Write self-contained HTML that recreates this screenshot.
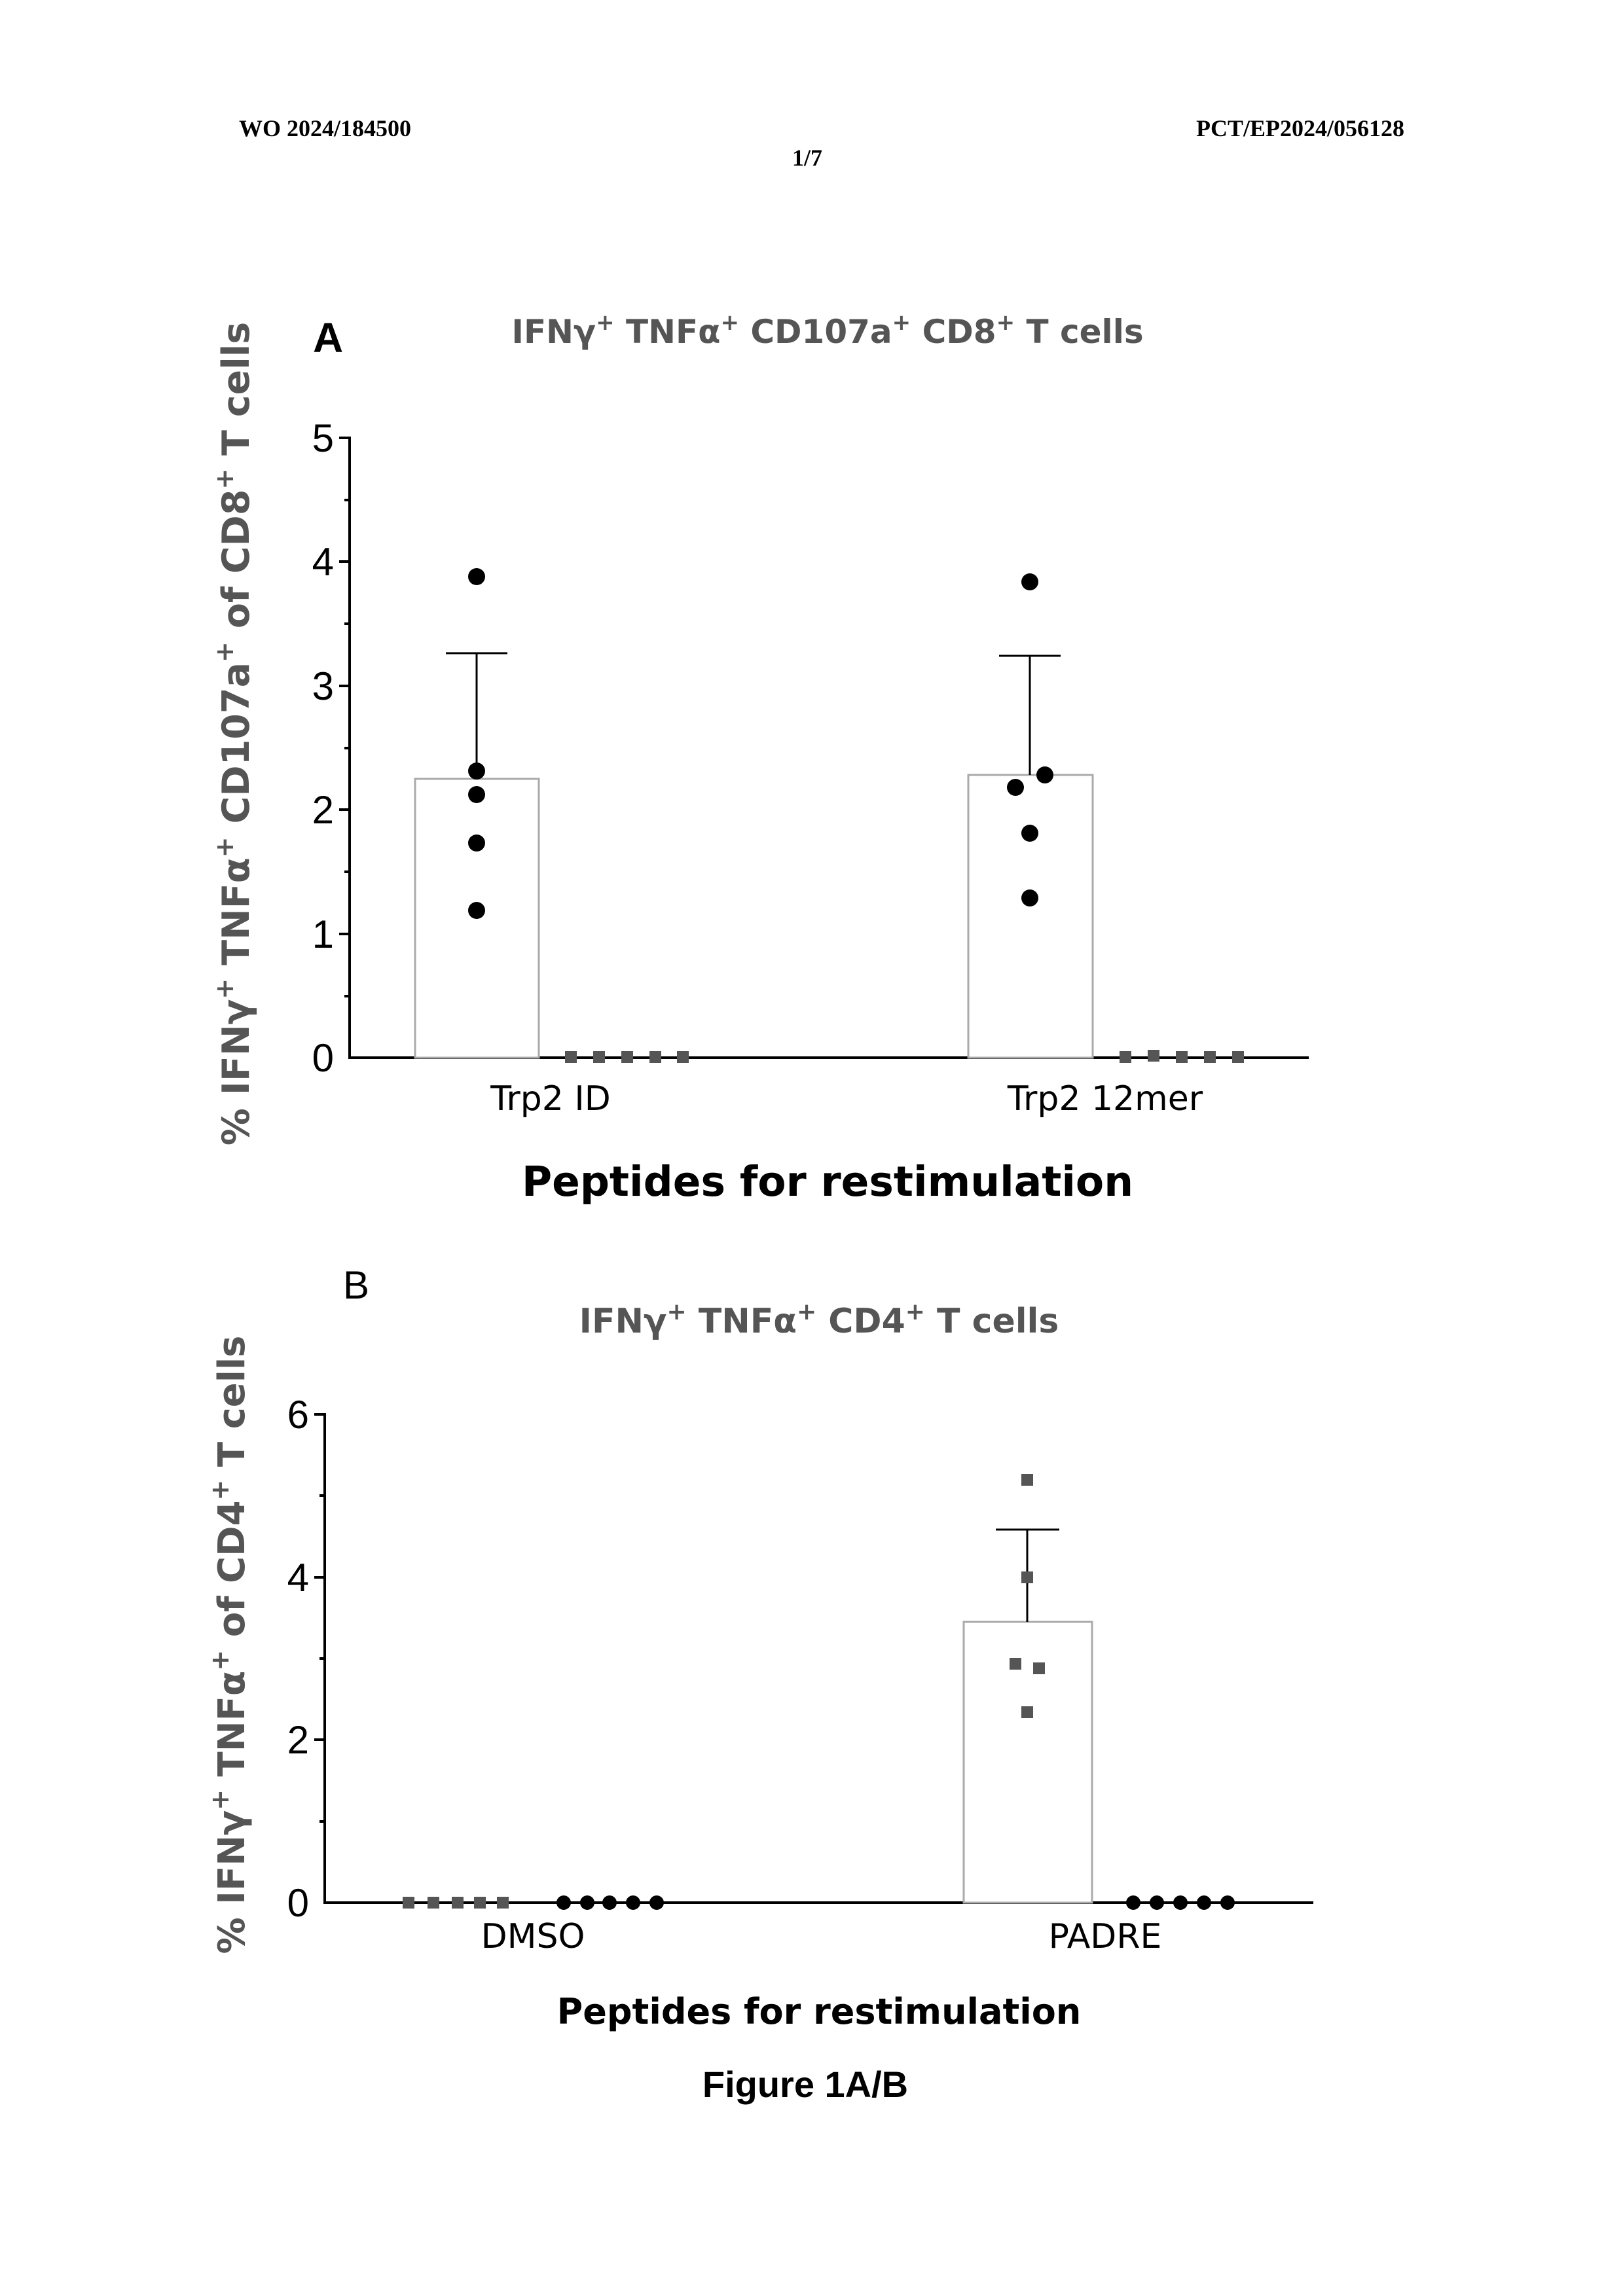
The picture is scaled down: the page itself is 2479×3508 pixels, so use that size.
<!DOCTYPE html>
<html><head><meta charset="utf-8"><style>
html,body{margin:0;padding:0;background:#fff;}
svg{display:block;}
</style></head><body>
<svg width="2479" height="3508" viewBox="0 0 2479 3508" xmlns="http://www.w3.org/2000/svg">
<rect width="2479" height="3508" fill="#fff"/>
<g font-family="Liberation Serif, serif" font-weight="bold" font-size="36" fill="#000">
<text x="365" y="208">WO 2024/184500</text>
<text x="2145" y="208" text-anchor="end">PCT/EP2024/056128</text>
<text x="1233" y="253" text-anchor="middle">1/7</text>
</g>

<!-- Chart A -->
<text x="478" y="538" font-family="Liberation Sans, sans-serif" font-weight="bold" font-size="64" fill="#000">A</text>
<text x="1264" y="524" text-anchor="middle" font-family="DejaVu Sans, sans-serif" font-weight="bold" font-size="50" fill="#555">IFNγ<tspan font-size="34" dy="-20">+</tspan><tspan dy="20"> TNFα</tspan><tspan font-size="34" dy="-20">+</tspan><tspan dy="20"> CD107a</tspan><tspan font-size="34" dy="-20">+</tspan><tspan dy="20"> CD8</tspan><tspan font-size="34" dy="-20">+</tspan><tspan dy="20"> T cells</tspan></text>
<text transform="translate(380,1121) rotate(-90)" text-anchor="middle" font-family="DejaVu Sans, sans-serif" font-weight="bold" font-size="57" fill="#555">% IFNγ<tspan font-size="38" dy="-24">+</tspan><tspan dy="24"> TNFα</tspan><tspan font-size="38" dy="-24">+</tspan><tspan dy="24"> CD107a</tspan><tspan font-size="38" dy="-24">+</tspan><tspan dy="24"> of CD8</tspan><tspan font-size="38" dy="-24">+</tspan><tspan dy="24"> T cells</tspan></text>
<g stroke="#000" stroke-width="4">
<line x1="534" y1="667" x2="534" y2="1618"/>
<line x1="532" y1="1616" x2="1999" y2="1616"/>
<line x1="518" y1="669" x2="534" y2="669"/>
<line x1="518" y1="858" x2="534" y2="858"/>
<line x1="518" y1="1048" x2="534" y2="1048"/>
<line x1="518" y1="1237" x2="534" y2="1237"/>
<line x1="518" y1="1427" x2="534" y2="1427"/>
<line x1="526" y1="764" x2="534" y2="764"/>
<line x1="526" y1="953" x2="534" y2="953"/>
<line x1="526" y1="1143" x2="534" y2="1143"/>
<line x1="526" y1="1332" x2="534" y2="1332"/>
<line x1="526" y1="1522" x2="534" y2="1522"/>
</g>
<g font-family="Liberation Sans, sans-serif" font-size="60" fill="#000" text-anchor="end">
<text x="510" y="690">5</text><text x="510" y="879">4</text><text x="510" y="1069">3</text><text x="510" y="1258">2</text><text x="510" y="1448">1</text><text x="510" y="1637">0</text>
</g>
<g fill="#fff" stroke="#aaa" stroke-width="3">
<rect x="634" y="1190" width="189" height="426"/>
<rect x="1479" y="1184" width="190" height="432"/>
</g>
<g stroke="#000" stroke-width="3">
<line x1="728" y1="1190" x2="728" y2="998"/><line x1="681" y1="998" x2="775" y2="998"/>
<line x1="1573" y1="1184" x2="1573" y2="1002"/><line x1="1526" y1="1002" x2="1620" y2="1002"/>
</g>
<g fill="#000">
<circle cx="728" cy="881" r="13"/><circle cx="728" cy="1178" r="13"/><circle cx="728" cy="1214" r="13"/><circle cx="728" cy="1288" r="13"/><circle cx="728" cy="1391" r="13"/>
<circle cx="1573" cy="889" r="13"/><circle cx="1596" cy="1184" r="13"/><circle cx="1551" cy="1203" r="13"/><circle cx="1573" cy="1273" r="13"/><circle cx="1573" cy="1372" r="13"/>
</g>
<g fill="#555">
<rect x="863" y="1606" width="18" height="18"/><rect x="906" y="1606" width="18" height="18"/><rect x="949" y="1606" width="18" height="18"/><rect x="992" y="1606" width="18" height="18"/><rect x="1034" y="1606" width="18" height="18"/>
<rect x="1710" y="1606" width="18" height="18"/><rect x="1753" y="1604" width="18" height="18"/><rect x="1796" y="1606" width="18" height="18"/><rect x="1839" y="1606" width="18" height="18"/><rect x="1882" y="1606" width="18" height="18"/>
</g>
<g font-family="DejaVu Sans, sans-serif" font-size="52" fill="#000" text-anchor="middle">
<text x="841" y="1696">Trp2 ID</text><text x="1688" y="1696">Trp2 12mer</text>
</g>
<text x="1264" y="1827" text-anchor="middle" font-family="DejaVu Sans, sans-serif" font-weight="bold" font-size="63" fill="#000">Peptides for restimulation</text>

<!-- Chart B -->
<text x="524" y="1984" font-family="Liberation Sans, sans-serif" font-size="60" fill="#000">B</text>
<text x="1251" y="2036" text-anchor="middle" font-family="DejaVu Sans, sans-serif" font-weight="bold" font-size="52" fill="#555">IFNγ<tspan font-size="36" dy="-20">+</tspan><tspan dy="20"> TNFα</tspan><tspan font-size="36" dy="-20">+</tspan><tspan dy="20"> CD4</tspan><tspan font-size="36" dy="-20">+</tspan><tspan dy="20"> T cells</tspan></text>
<text transform="translate(373,2513) rotate(-90)" text-anchor="middle" font-family="DejaVu Sans, sans-serif" font-weight="bold" font-size="56" fill="#555">% IFNγ<tspan font-size="38" dy="-24">+</tspan><tspan dy="24"> TNFα</tspan><tspan font-size="38" dy="-24">+</tspan><tspan dy="24"> of CD4</tspan><tspan font-size="38" dy="-24">+</tspan><tspan dy="24"> T cells</tspan></text>
<g stroke="#000" stroke-width="4">
<line x1="496" y1="2159" x2="496" y2="2909"/>
<line x1="494" y1="2907" x2="2006" y2="2907"/>
<line x1="480" y1="2161" x2="496" y2="2161"/>
<line x1="480" y1="2410" x2="496" y2="2410"/>
<line x1="480" y1="2658" x2="496" y2="2658"/>
<line x1="488" y1="2285" x2="496" y2="2285"/>
<line x1="488" y1="2534" x2="496" y2="2534"/>
<line x1="488" y1="2783" x2="496" y2="2783"/>
</g>
<g font-family="Liberation Sans, sans-serif" font-size="60" fill="#000" text-anchor="end">
<text x="472" y="2182">6</text><text x="472" y="2431">4</text><text x="472" y="2679">2</text><text x="472" y="2928">0</text>
</g>
<rect x="1472" y="2478" width="196" height="429" fill="#fff" stroke="#aaa" stroke-width="3"/>
<g stroke="#000" stroke-width="3">
<line x1="1569" y1="2478" x2="1569" y2="2337"/><line x1="1521" y1="2337" x2="1618" y2="2337"/>
</g>
<g fill="#555">
<rect x="1560" y="2252" width="18" height="18"/><rect x="1560" y="2401" width="18" height="18"/><rect x="1542" y="2533" width="18" height="18"/><rect x="1578" y="2540" width="18" height="18"/><rect x="1560" y="2607" width="18" height="18"/>
<rect x="615" y="2898" width="18" height="18"/><rect x="653" y="2898" width="18" height="18"/><rect x="690" y="2898" width="18" height="18"/><rect x="724" y="2898" width="18" height="18"/><rect x="759" y="2898" width="18" height="18"/>
</g>
<g fill="#000">
<circle cx="861" cy="2907" r="11"/><circle cx="897" cy="2907" r="11"/><circle cx="931" cy="2907" r="11"/><circle cx="967" cy="2907" r="11"/><circle cx="1003" cy="2907" r="11"/>
<circle cx="1731" cy="2907" r="11"/><circle cx="1767" cy="2907" r="11"/><circle cx="1803" cy="2907" r="11"/><circle cx="1839" cy="2907" r="11"/><circle cx="1875" cy="2907" r="11"/>
</g>
<g font-family="DejaVu Sans, sans-serif" font-size="52" fill="#000" text-anchor="middle">
<text x="814" y="2976">DMSO</text><text x="1688" y="2976">PADRE</text>
</g>
<text x="1251" y="3092" text-anchor="middle" font-family="DejaVu Sans, sans-serif" font-weight="bold" font-size="54" fill="#000">Peptides for restimulation</text>
<text x="1230" y="3204" text-anchor="middle" font-family="Liberation Sans, sans-serif" font-weight="bold" font-size="56" fill="#000">Figure 1A/B</text>
</svg>
</body></html>
